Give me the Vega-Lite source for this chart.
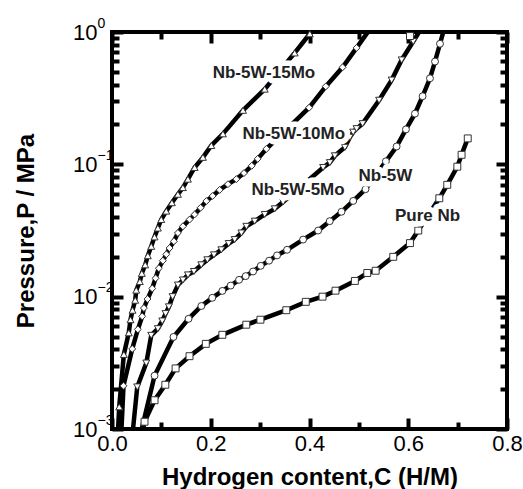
{
  "$schema": "https://vega.github.io/schema/vega-lite/v6.json",
  "width": 395,
  "height": 397,
  "autosize": {"type": "none"},
  "padding": {"left": 112, "top": 32, "right": 16, "bottom": 60},
  "background": "white",
  "config": {
    "view": {"stroke": "black", "strokeWidth": 4},
    "axis": {"domain": false, "grid": false, "labelFont": "Liberation Sans", "labelFontSize": 22, "labelFlush": false}
  },
  "datasets": {
    "curves": [
      {"s": "Nb-5W-15Mo", "C": 0.011, "P": 0.0008},
      {"s": "Nb-5W-15Mo", "C": 0.0146, "P": 0.00147},
      {"s": "Nb-5W-15Mo", "C": 0.024, "P": 0.00366},
      {"s": "Nb-5W-15Mo", "C": 0.034, "P": 0.00533},
      {"s": "Nb-5W-15Mo", "C": 0.0375, "P": 0.0067},
      {"s": "Nb-5W-15Mo", "C": 0.0416, "P": 0.0079},
      {"s": "Nb-5W-15Mo", "C": 0.047, "P": 0.0094},
      {"s": "Nb-5W-15Mo", "C": 0.0491, "P": 0.0112},
      {"s": "Nb-5W-15Mo", "C": 0.0564, "P": 0.013},
      {"s": "Nb-5W-15Mo", "C": 0.0604, "P": 0.015},
      {"s": "Nb-5W-15Mo", "C": 0.0673, "P": 0.0174},
      {"s": "Nb-5W-15Mo", "C": 0.0726, "P": 0.0204},
      {"s": "Nb-5W-15Mo", "C": 0.0795, "P": 0.024},
      {"s": "Nb-5W-15Mo", "C": 0.0862, "P": 0.0283},
      {"s": "Nb-5W-15Mo", "C": 0.0929, "P": 0.033},
      {"s": "Nb-5W-15Mo", "C": 0.0998, "P": 0.0383},
      {"s": "Nb-5W-15Mo", "C": 0.1099, "P": 0.0443},
      {"s": "Nb-5W-15Mo", "C": 0.1213, "P": 0.0513},
      {"s": "Nb-5W-15Mo", "C": 0.1335, "P": 0.0594},
      {"s": "Nb-5W-15Mo", "C": 0.1436, "P": 0.0667},
      {"s": "Nb-5W-15Mo", "C": 0.1538, "P": 0.0773},
      {"s": "Nb-5W-15Mo", "C": 0.1673, "P": 0.0947},
      {"s": "Nb-5W-15Mo", "C": 0.1842, "P": 0.113},
      {"s": "Nb-5W-15Mo", "C": 0.2012, "P": 0.1387},
      {"s": "Nb-5W-15Mo", "C": 0.2247, "P": 0.17},
      {"s": "Nb-5W-15Mo", "C": 0.2653, "P": 0.256},
      {"s": "Nb-5W-15Mo", "C": 0.3093, "P": 0.37},
      {"s": "Nb-5W-15Mo", "C": 0.37, "P": 0.695},
      {"s": "Nb-5W-15Mo", "C": 0.4006, "P": 0.97},
      {"s": "Nb-5W-15Mo", "C": 0.416, "P": 1.15},

      {"s": "Nb-5W-10Mo", "C": 0.018, "P": 0.0008},
      {"s": "Nb-5W-10Mo", "C": 0.0233, "P": 0.00212},
      {"s": "Nb-5W-10Mo", "C": 0.041, "P": 0.00403},
      {"s": "Nb-5W-10Mo", "C": 0.0524, "P": 0.00566},
      {"s": "Nb-5W-10Mo", "C": 0.0612, "P": 0.0071},
      {"s": "Nb-5W-10Mo", "C": 0.0646, "P": 0.0082},
      {"s": "Nb-5W-10Mo", "C": 0.072, "P": 0.0096},
      {"s": "Nb-5W-10Mo", "C": 0.0815, "P": 0.01154},
      {"s": "Nb-5W-10Mo", "C": 0.0882, "P": 0.01377},
      {"s": "Nb-5W-10Mo", "C": 0.0949, "P": 0.0164},
      {"s": "Nb-5W-10Mo", "C": 0.103, "P": 0.0187},
      {"s": "Nb-5W-10Mo", "C": 0.11, "P": 0.0209},
      {"s": "Nb-5W-10Mo", "C": 0.1166, "P": 0.0233},
      {"s": "Nb-5W-10Mo", "C": 0.1254, "P": 0.0262},
      {"s": "Nb-5W-10Mo", "C": 0.1335, "P": 0.0303},
      {"s": "Nb-5W-10Mo", "C": 0.1436, "P": 0.034},
      {"s": "Nb-5W-10Mo", "C": 0.1572, "P": 0.0383},
      {"s": "Nb-5W-10Mo", "C": 0.1673, "P": 0.0418},
      {"s": "Nb-5W-10Mo", "C": 0.1795, "P": 0.047},
      {"s": "Nb-5W-10Mo", "C": 0.1911, "P": 0.0528},
      {"s": "Nb-5W-10Mo", "C": 0.2039, "P": 0.0577},
      {"s": "Nb-5W-10Mo", "C": 0.218, "P": 0.0641},
      {"s": "Nb-5W-10Mo", "C": 0.2349, "P": 0.0708},
      {"s": "Nb-5W-10Mo", "C": 0.2519, "P": 0.0773},
      {"s": "Nb-5W-10Mo", "C": 0.2673, "P": 0.0859},
      {"s": "Nb-5W-10Mo", "C": 0.283, "P": 0.0975},
      {"s": "Nb-5W-10Mo", "C": 0.2951, "P": 0.11},
      {"s": "Nb-5W-10Mo", "C": 0.3128, "P": 0.131},
      {"s": "Nb-5W-10Mo", "C": 0.3992, "P": 0.268},
      {"s": "Nb-5W-10Mo", "C": 0.433, "P": 0.388},
      {"s": "Nb-5W-10Mo", "C": 0.467, "P": 0.541},
      {"s": "Nb-5W-10Mo", "C": 0.4953, "P": 0.759},
      {"s": "Nb-5W-10Mo", "C": 0.53, "P": 1.15},

      {"s": "Nb-5W-5Mo", "C": 0.04, "P": 0.0008},
      {"s": "Nb-5W-5Mo", "C": 0.0511, "P": 0.00208},
      {"s": "Nb-5W-5Mo", "C": 0.0694, "P": 0.00315},
      {"s": "Nb-5W-5Mo", "C": 0.0795, "P": 0.0051},
      {"s": "Nb-5W-5Mo", "C": 0.0929, "P": 0.00573},
      {"s": "Nb-5W-5Mo", "C": 0.1018, "P": 0.00655},
      {"s": "Nb-5W-5Mo", "C": 0.1085, "P": 0.00745},
      {"s": "Nb-5W-5Mo", "C": 0.1152, "P": 0.00838},
      {"s": "Nb-5W-5Mo", "C": 0.1227, "P": 0.01},
      {"s": "Nb-5W-5Mo", "C": 0.1335, "P": 0.01225},
      {"s": "Nb-5W-5Mo", "C": 0.1436, "P": 0.01337},
      {"s": "Nb-5W-5Mo", "C": 0.1538, "P": 0.0146},
      {"s": "Nb-5W-5Mo", "C": 0.1659, "P": 0.0155},
      {"s": "Nb-5W-5Mo", "C": 0.1809, "P": 0.0174},
      {"s": "Nb-5W-5Mo", "C": 0.1931, "P": 0.019},
      {"s": "Nb-5W-5Mo", "C": 0.2065, "P": 0.0207},
      {"s": "Nb-5W-5Mo", "C": 0.2215, "P": 0.0226},
      {"s": "Nb-5W-5Mo", "C": 0.2363, "P": 0.0252},
      {"s": "Nb-5W-5Mo", "C": 0.2485, "P": 0.027},
      {"s": "Nb-5W-5Mo", "C": 0.2621, "P": 0.0303},
      {"s": "Nb-5W-5Mo", "C": 0.2722, "P": 0.034},
      {"s": "Nb-5W-5Mo", "C": 0.289, "P": 0.0372},
      {"s": "Nb-5W-5Mo", "C": 0.3093, "P": 0.0418},
      {"s": "Nb-5W-5Mo", "C": 0.3296, "P": 0.0461},
      {"s": "Nb-5W-5Mo", "C": 0.3465, "P": 0.0519},
      {"s": "Nb-5W-5Mo", "C": 0.4276, "P": 0.0946},
      {"s": "Nb-5W-5Mo", "C": 0.4412, "P": 0.103},
      {"s": "Nb-5W-5Mo", "C": 0.4513, "P": 0.116},
      {"s": "Nb-5W-5Mo", "C": 0.4716, "P": 0.1345},
      {"s": "Nb-5W-5Mo", "C": 0.4817, "P": 0.16},
      {"s": "Nb-5W-5Mo", "C": 0.4884, "P": 0.175},
      {"s": "Nb-5W-5Mo", "C": 0.4953, "P": 0.186},
      {"s": "Nb-5W-5Mo", "C": 0.5075, "P": 0.203},
      {"s": "Nb-5W-5Mo", "C": 0.541, "P": 0.305},
      {"s": "Nb-5W-5Mo", "C": 0.5663, "P": 0.433},
      {"s": "Nb-5W-5Mo", "C": 0.5866, "P": 0.615},
      {"s": "Nb-5W-5Mo", "C": 0.6101, "P": 0.848},
      {"s": "Nb-5W-5Mo", "C": 0.632, "P": 1.15},

      {"s": "Nb-5W", "C": 0.054, "P": 0.0008},
      {"s": "Nb-5W", "C": 0.0862, "P": 0.00253},
      {"s": "Nb-5W", "C": 0.1245, "P": 0.00496},
      {"s": "Nb-5W", "C": 0.155, "P": 0.0068},
      {"s": "Nb-5W", "C": 0.181, "P": 0.0085},
      {"s": "Nb-5W", "C": 0.203, "P": 0.0098},
      {"s": "Nb-5W", "C": 0.2235, "P": 0.01105},
      {"s": "Nb-5W", "C": 0.2404, "P": 0.01213},
      {"s": "Nb-5W", "C": 0.2573, "P": 0.0134},
      {"s": "Nb-5W", "C": 0.2708, "P": 0.0143},
      {"s": "Nb-5W", "C": 0.2857, "P": 0.0155},
      {"s": "Nb-5W", "C": 0.3012, "P": 0.0171},
      {"s": "Nb-5W", "C": 0.3181, "P": 0.0187},
      {"s": "Nb-5W", "C": 0.3343, "P": 0.0205},
      {"s": "Nb-5W", "C": 0.3546, "P": 0.0226},
      {"s": "Nb-5W", "C": 0.387, "P": 0.027},
      {"s": "Nb-5W", "C": 0.4175, "P": 0.0316},
      {"s": "Nb-5W", "C": 0.441, "P": 0.0372},
      {"s": "Nb-5W", "C": 0.4648, "P": 0.0438},
      {"s": "Nb-5W", "C": 0.4885, "P": 0.0529},
      {"s": "Nb-5W", "C": 0.5135, "P": 0.0649},
      {"s": "Nb-5W", "C": 0.5547, "P": 0.1054},
      {"s": "Nb-5W", "C": 0.5764, "P": 0.1364},
      {"s": "Nb-5W", "C": 0.5953, "P": 0.1837},
      {"s": "Nb-5W", "C": 0.6136, "P": 0.2416},
      {"s": "Nb-5W", "C": 0.6291, "P": 0.327},
      {"s": "Nb-5W", "C": 0.644, "P": 0.447},
      {"s": "Nb-5W", "C": 0.6542, "P": 0.598},
      {"s": "Nb-5W", "C": 0.6643, "P": 0.815},
      {"s": "Nb-5W", "C": 0.6755, "P": 1.15},

      {"s": "Pure Nb", "C": 0.058, "P": 0.0008},
      {"s": "Pure Nb", "C": 0.0659, "P": 0.001135},
      {"s": "Pure Nb", "C": 0.0862, "P": 0.00165},
      {"s": "Pure Nb", "C": 0.108, "P": 0.00216},
      {"s": "Pure Nb", "C": 0.1288, "P": 0.00287},
      {"s": "Pure Nb", "C": 0.157, "P": 0.00355},
      {"s": "Pure Nb", "C": 0.19, "P": 0.0044},
      {"s": "Pure Nb", "C": 0.2235, "P": 0.00515},
      {"s": "Pure Nb", "C": 0.272, "P": 0.00614},
      {"s": "Pure Nb", "C": 0.3006, "P": 0.0067},
      {"s": "Pure Nb", "C": 0.353, "P": 0.0079},
      {"s": "Pure Nb", "C": 0.3925, "P": 0.00914},
      {"s": "Pure Nb", "C": 0.4264, "P": 0.01},
      {"s": "Pure Nb", "C": 0.4527, "P": 0.0111},
      {"s": "Pure Nb", "C": 0.4919, "P": 0.01315},
      {"s": "Pure Nb", "C": 0.517, "P": 0.0151},
      {"s": "Pure Nb", "C": 0.534, "P": 0.0157},
      {"s": "Pure Nb", "C": 0.5696, "P": 0.02},
      {"s": "Pure Nb", "C": 0.6035, "P": 0.0254},
      {"s": "Pure Nb", "C": 0.6203, "P": 0.0316},
      {"s": "Pure Nb", "C": 0.6629, "P": 0.0554},
      {"s": "Pure Nb", "C": 0.679, "P": 0.07},
      {"s": "Pure Nb", "C": 0.6994, "P": 0.096},
      {"s": "Pure Nb", "C": 0.708, "P": 0.118},
      {"s": "Pure Nb", "C": 0.7205, "P": 0.157}
    ],
    "labels": [
      {"label": "Nb-5W-15Mo", "C": 0.3077, "P": 0.49},
      {"label": "Nb-5W-10Mo", "C": 0.3682, "P": 0.1687},
      {"label": "Nb-5W-5Mo", "C": 0.3769, "P": 0.0641},
      {"label": "Nb-5W", "C": 0.5538, "P": 0.0811},
      {"label": "Pure Nb", "C": 0.639, "P": 0.0406}
    ],
    "extra": [
      {"C": 0.6035, "P": 0.932}
    ]
  },
  "layer": [
    {
      "data": {"name": "curves"},
      "mark": {"type": "line", "clip": true, "color": "black", "strokeWidth": 4.5},
      "encoding": {
        "x": {
          "field": "C", "type": "quantitative",
          "scale": {"domain": [0, 0.8], "nice": false},
          "axis": {
            "orient": "bottom",
            "title": "Hydrogen content,C (H/M)",
            "titleFont": "Liberation Sans", "titleFontSize": 24, "titleFontWeight": "bold",
            "titlePadding": 11,
            "values": [0, 0.2, 0.4, 0.6, 0.8],
            "labelExpr": "format(datum.value, '.1f')",
            "tickColor": "black", "tickWidth": 4, "tickSize": 11, "offset": -11,
            "labelPadding": 4
          }
        },
        "y": {
          "field": "P", "type": "quantitative",
          "scale": {"type": "log", "domain": [0.001, 1], "nice": false},
          "axis": {
            "orient": "left",
            "title": "Pressure,P / MPa",
            "titleFont": "Liberation Sans", "titleFontSize": 24, "titleFontWeight": "bold",
            "titlePadding": 34,
            "values": [0.001, 0.01, 0.1, 1],
            "labelExpr": "'10'",
            "tickColor": "black", "tickWidth": 4, "tickSize": 11, "offset": -11,
            "labelPadding": 15
          }
        },
        "detail": {"field": "s", "type": "nominal"}
      }
    },
    {
      "data": {"name": "curves"},
      "transform": [{"filter": "datum.P >= 0.001 && datum.P <= 1"}],
      "mark": {"type": "point", "filled": true, "fill": "white", "stroke": "#333", "strokeWidth": 1, "size": 48, "opacity": 1},
      "encoding": {
        "x": {
          "field": "C", "type": "quantitative",
          "axis": {"orient": "top", "labels": false, "title": null, "values": [0, 0.2, 0.4, 0.6, 0.8], "tickColor": "black", "tickWidth": 4, "tickSize": 11, "offset": -11}
        },
        "y": {
          "field": "P", "type": "quantitative",
          "axis": {"orient": "right", "labels": false, "title": null, "values": [0.001, 0.01, 0.1, 1], "tickColor": "black", "tickWidth": 4, "tickSize": 11, "offset": -11}
        },
        "shape": {
          "field": "s", "type": "nominal",
          "scale": {"domain": ["Nb-5W-15Mo", "Nb-5W-10Mo", "Nb-5W-5Mo", "Nb-5W", "Pure Nb"], "range": ["triangle-up", "diamond", "triangle-down", "circle", "square"]},
          "legend": null
        }
      }
    },
    {
      "data": {"name": "extra"},
      "mark": {"type": "point", "shape": "square", "filled": true, "fill": "white", "stroke": "#333", "strokeWidth": 1, "size": 48, "opacity": 1},
      "encoding": {
        "x": {
          "field": "C", "type": "quantitative",
          "axis": {"orient": "bottom", "labels": false, "title": null, "values": [0.1, 0.3, 0.5, 0.7], "tickColor": "black", "tickWidth": 4, "tickSize": 7, "offset": -7}
        },
        "y": {
          "field": "P", "type": "quantitative",
          "axis": {"orient": "left", "labels": false, "title": null, "values": [0.002, 0.003, 0.004, 0.005, 0.006, 0.007, 0.008, 0.009, 0.02, 0.03, 0.04, 0.05, 0.06, 0.07, 0.08, 0.09, 0.2, 0.3, 0.4, 0.5, 0.6, 0.7, 0.8, 0.9], "tickColor": "black", "tickWidth": 4, "tickSize": 7, "offset": -7}
        }
      }
    },
    {
      "data": {"name": "labels"},
      "mark": {"type": "text", "font": "Liberation Sans", "fontWeight": "bold", "fontSize": 17, "fill": "white", "stroke": "white", "strokeWidth": 11, "strokeJoin": "round", "align": "center", "baseline": "middle"},
      "encoding": {
        "x": {
          "field": "C", "type": "quantitative",
          "axis": {"orient": "top", "labels": false, "title": null, "values": [0.1, 0.3, 0.5, 0.7], "tickColor": "black", "tickWidth": 4, "tickSize": 7, "offset": -7}
        },
        "y": {
          "field": "P", "type": "quantitative",
          "axis": {"orient": "right", "labels": false, "title": null, "values": [0.002, 0.003, 0.004, 0.005, 0.006, 0.007, 0.008, 0.009, 0.02, 0.03, 0.04, 0.05, 0.06, 0.07, 0.08, 0.09, 0.2, 0.3, 0.4, 0.5, 0.6, 0.7, 0.8, 0.9], "tickColor": "black", "tickWidth": 4, "tickSize": 7, "offset": -7}
        },
        "text": {"field": "label", "type": "nominal"}
      }
    },
    {
      "data": {"name": "labels"},
      "mark": {"type": "text", "font": "Liberation Sans", "fontWeight": "bold", "fontSize": 17, "fill": "#222", "align": "center", "baseline": "middle"},
      "encoding": {
        "x": {"field": "C", "type": "quantitative", "axis": null},
        "y": {
          "field": "P", "type": "quantitative",
          "axis": {
            "orient": "left", "ticks": false, "title": null,
            "values": [0.001, 0.01, 0.1, 1],
            "labelAlign": "left", "labelFontSize": 14, "labelPadding": 15, "labelOffset": -9,
            "labelExpr": "format(round(log(datum.value)/LN10), 'd')"
          }
        },
        "text": {"field": "label", "type": "nominal"}
      }
    }
  ],
  "resolve": {"axis": {"x": "independent", "y": "independent"}}
}
